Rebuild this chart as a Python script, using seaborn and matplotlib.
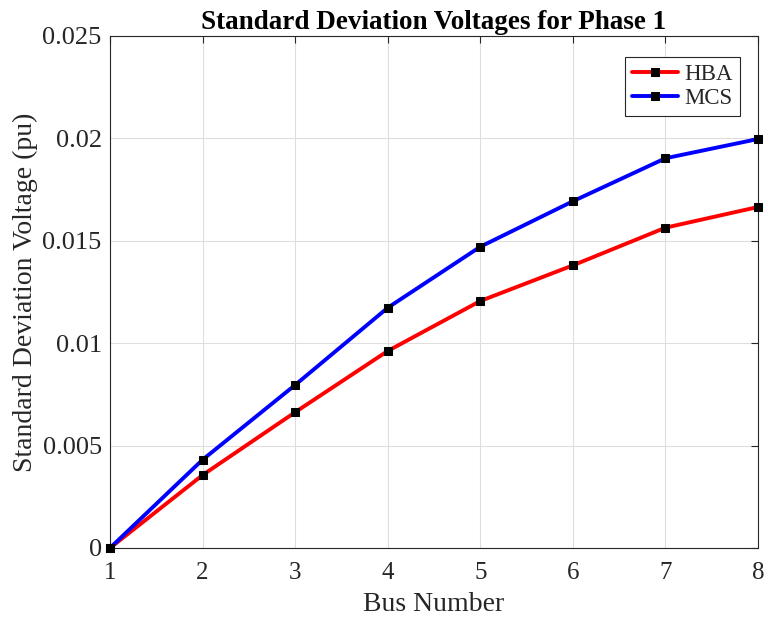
import matplotlib
matplotlib.use("Agg")
import matplotlib.pyplot as plt
import seaborn as sns
import pandas as pd

# Bus indices and per-method standard deviation of voltage (pu)
buses = [1, 2, 3, 4, 5, 6, 7, 8]
hba_std = [0.0, 0.00356, 0.00663, 0.00962, 0.01206, 0.01380, 0.01564, 0.01665]
mcs_std = [0.0, 0.00431, 0.00796, 0.01173, 0.01471, 0.01693, 0.01903, 0.01997]
y_ticks = [0, 0.005, 0.01, 0.015, 0.02, 0.025]
y_tick_labels = ["0", "0.005", "0.01", "0.015", "0.02", "0.025"]

sns.set_style("white")
plt.rcParams["font.family"] = ["Liberation Serif", "DejaVu Serif"]

df = pd.DataFrame({"bus": buses, "HBA": hba_std, "MCS": mcs_std})

fig = plt.figure(figsize=(7.65, 6.19), dpi=100)
ax = fig.add_axes([110 / 765, 71 / 619, 648 / 765, 512 / 619])

for name, color in [("HBA", "#ff0000"), ("MCS", "#0000ff")]:
    sns.lineplot(data=df, x="bus", y=name, ax=ax, color=color, linewidth=2.8,
                 marker="s", markersize=6, markerfacecolor="black",
                 markeredgecolor="black", label=name, zorder=3, clip_on=False)

ax.set_xlim(1, 8)
ax.set_ylim(0, 0.025)
ax.set_xticks(buses)
ax.set_yticks(y_ticks)
ax.set_yticklabels(y_tick_labels)
ax.grid(True, color="#dedede", linewidth=0.8)
ax.set_axisbelow(True)
for s in ax.spines.values():
    s.set_color("#262626")
    s.set_linewidth(0.8)
ax.tick_params(direction="in", length=5, width=0.8, colors="#262626",
               labelsize=19, top=True, right=True, labelcolor="#262626")
ax.tick_params(axis="x", pad=10, labelsize=18)
ax.tick_params(axis="y", pad=6)

ax.set_xlabel("Bus Number", fontsize=20, color="#262626", labelpad=6)
ax.set_ylabel("Standard Deviation Voltage (pu)", fontsize=20, color="#262626", labelpad=3)
ax.set_title("Standard Deviation Voltages for Phase 1", fontsize=19.5,
             fontweight="bold", color="black", pad=5)

leg = ax.legend(loc="upper right", bbox_to_anchor=(0.972, 0.959), fontsize=16.5,
                frameon=True, fancybox=False, framealpha=1, edgecolor="#262626",
                handlelength=2.0, handletextpad=0.3, borderpad=0.3,
                labelspacing=0.15, borderaxespad=0)
leg.get_frame().set_linewidth(0.8)

fig.savefig("out.png", dpi=100)
